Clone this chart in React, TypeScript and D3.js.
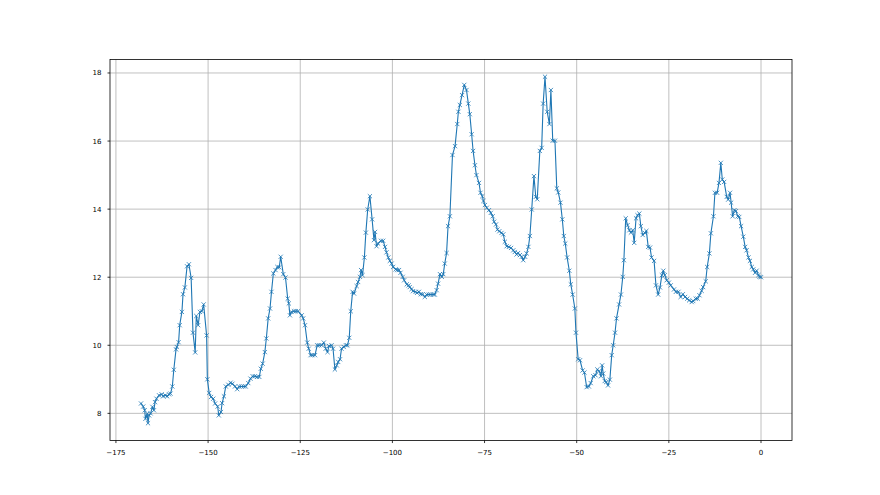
import React, { useEffect, useRef } from "react";
import * as d3 from "d3";

// Data (x, y pairs in parallel arrays)
const xValues: number[] = [
  -168.2, -167.6, -167.2, -167.0, -166.5, -166.3, -166.0, -165.6, -165.1, -164.7,
  -164.4, -164.0, -163.3, -162.6, -162.2, -161.6, -161.1, -160.6, -160.2, -159.7,
  -159.3, -158.7, -158.5, -158.0, -157.7, -157.1, -156.8, -156.3, -155.7, -155.2,
  -154.6, -154.1, -153.5, -153.2, -152.7, -152.2, -151.7, -151.2, -150.4, -150.2,
  -149.7, -149.2, -148.6, -148.1, -147.4, -147.1,
  -146.5, -146.2, -145.7, -145.2, -144.5, -143.9, -143.4, -142.7, -142.1, -141.6,
  -140.9, -140.3, -139.8, -139.1, -138.5, -137.9, -137.3, -136.7, -136.1, -135.7,
  -135.2, -134.6, -134.2, -133.7, -133.2, -132.8, -132.3, -131.7, -131.2, -130.7,
  -130.3, -129.6, -129.0, -128.4, -128.1, -127.8, -127.4, -126.7, -126.2, -125.6,
  -124.6, -124.2, -123.7, -123.1, -122.7, -122.2, -121.7, -121.0, -120.4, -119.9,
  -119.2, -118.6, -118.1, -117.6, -117.2, -116.5, -116.1, -115.6, -115.1, -114.7,
  -114.2, -113.8, -113.2, -112.6, -112.2, -111.7, -111.3, -110.8, -110.4, -109.7,
  -109.3, -108.8, -108.5, -108.1, -107.6, -107.2, -106.7, -106.1, -105.5, -105.0,
  -104.7, -104.3, -103.9, -103.1, -102.5,
  -102.0, -101.6, -101.1, -100.7, -100.2, -99.8, -99.1, -98.7, -98.2, -97.8,
  -97.2, -96.8, -96.1, -95.6, -95.3, -94.8, -94.4, -93.7, -93.3, -92.8,
  -92.3, -91.8, -91.2, -90.7, -90.1, -89.6, -88.9, -88.5, -88.0, -87.6,
  -87.1, -86.6, -86.2, -85.8, -85.3, -84.9, -84.4, -83.7, -83.0, -82.4,
  -82.1, -81.7, -81.1, -80.5, -79.9, -79.4, -79.0,
  -78.5, -78.1, -77.6, -77.2, -76.5, -76.1, -75.6, -75.3, -74.9, -74.4,
  -73.8, -73.3, -72.8, -72.4, -71.9, -71.5, -71.0, -70.4, -69.9, -69.5,
  -69.0, -68.4, -67.8, -67.2, -66.8, -66.3, -65.9, -65.4, -64.9, -64.5,
  -64.0, -63.6, -63.1, -62.7, -62.2, -61.6, -61.1, -60.7, -60.0, -59.5,
  -59.1, -58.6,
  -58.0, -57.4, -57.0, -56.5, -55.9, -55.4, -55.0, -54.4, -53.9, -53.5,
  -53.1, -52.6, -52.0, -51.6, -51.1, -50.5, -50.2, -49.6, -49.1, -48.4,
  -47.9, -47.3, -46.7, -46.2, -45.5, -44.9, -44.4, -43.9, -43.4, -43.1,
  -42.8, -42.4, -42.0, -41.5, -41.0,
  -40.5, -40.1, -39.6, -39.2, -38.5, -38.0, -37.5, -37.2, -36.7, -36.2,
  -35.7, -35.3, -34.8, -34.4, -33.9, -33.5, -33.0, -32.6, -32.1, -31.5,
  -31.1, -30.6, -30.1, -29.7, -29.0, -28.5, -27.9, -27.4, -26.9, -26.5,
  -26.1, -25.6, -25.0, -24.5,
  -23.6, -23.1, -22.4, -21.8, -21.2, -20.6, -20.0, -19.5, -18.8, -18.4,
  -17.7, -17.2, -16.7, -16.1, -15.7, -15.0, -14.6, -14.0, -13.6, -12.9,
  -12.5, -11.9, -11.4, -10.9, -10.5, -10.0, -9.3, -8.9, -8.4, -8.1,
  -7.7, -7.2, -6.8, -6.3, -5.9, -5.4, -4.8, -4.3, -3.9, -3.4,
  -3.0, -2.5, -2.1, -1.6, -1.2, -0.7, -0.4, 0.0,
];

const yValues: number[] = [
  8.29, 8.2, 8.09, 7.84, 7.99, 7.71, 7.94, 8.0, 8.19, 8.09,
  8.33, 8.43, 8.53, 8.56, 8.5, 8.53, 8.5, 8.56, 8.58, 8.79,
  9.28, 9.88, 9.95, 10.09, 10.59, 10.98, 11.5, 11.7, 12.32, 12.38,
  11.98, 10.37, 9.79, 10.86, 10.59, 10.98, 11.0, 11.2, 10.29, 9.0,
  8.6, 8.48, 8.43, 8.29, 8.2, 7.94,
  8.04, 8.3, 8.5, 8.79, 8.84, 8.9, 8.87, 8.79, 8.71, 8.79,
  8.79, 8.79, 8.79, 8.89, 9.02, 9.09, 9.09, 9.07, 9.07, 9.31,
  9.46, 9.8, 10.2, 10.79, 11.08, 11.57, 12.11, 12.21, 12.3, 12.29,
  12.6, 12.09, 11.99, 11.37, 11.23, 10.88, 10.98, 11.0, 11.0, 11.0,
  10.88, 10.79, 10.59, 10.08, 9.9, 9.71, 9.71, 9.71, 10.0, 10.0,
  10.0, 10.08, 9.9, 9.8, 9.98, 10.0, 9.9, 9.29, 9.41, 9.51,
  9.59, 9.9, 9.95, 10.0, 10.0, 10.22, 11.0, 11.57, 11.52, 11.74,
  11.86, 12.01, 12.21, 12.06, 12.58, 13.31, 13.99, 14.38, 13.7, 13.09,
  13.33, 12.91, 12.99, 13.07, 13.07,
  12.89, 12.73, 12.58, 12.48, 12.4, 12.3, 12.23, 12.21, 12.21, 12.13,
  12.01, 11.91, 11.79, 11.76, 11.71, 11.65, 11.59, 11.57, 11.54, 11.57,
  11.5, 11.5, 11.42, 11.49, 11.49, 11.49, 11.49, 11.49, 11.62, 11.81,
  12.09, 12.01, 12.09, 12.4, 12.71, 13.5, 13.79, 15.59, 15.85, 16.5,
  16.86, 17.06, 17.35, 17.65, 17.5, 17.1, 16.79,
  16.2, 15.71, 15.29, 15.0, 14.77, 14.48, 14.38, 14.24, 14.12, 14.04,
  13.97, 13.89, 13.79, 13.63, 13.55, 13.4, 13.35, 13.3, 13.26, 13.04,
  12.91, 12.89, 12.86, 12.79, 12.74, 12.67, 12.71, 12.65, 12.6, 12.5,
  12.6, 12.7, 12.89, 13.21, 13.99, 14.97, 14.36, 14.29, 15.71, 15.8,
  17.1, 17.89,
  16.86, 16.5, 17.5, 16.01, 16.01, 14.61, 14.49, 14.19, 13.7, 13.21,
  12.99, 12.58, 12.19, 11.79, 11.49, 11.08, 10.37, 9.59, 9.56, 9.26,
  9.2, 8.77, 8.79, 8.89, 9.09, 9.12, 9.29, 9.24, 9.09, 9.41,
  9.17, 8.95, 8.92, 8.82, 8.99,
  9.71, 10.0, 10.37, 10.79, 11.2, 11.49, 12.01, 12.5, 13.73, 13.53,
  13.38, 13.31, 13.38, 13.01, 13.73, 13.82, 13.87, 13.5, 13.24, 13.3,
  13.36, 12.89, 12.87, 12.58, 12.48, 11.76, 11.49, 11.7, 12.06, 12.19,
  12.06, 11.91, 11.84, 11.76,
  11.64, 11.57, 11.57, 11.42, 11.5, 11.42, 11.37, 11.32, 11.27, 11.3,
  11.37, 11.37, 11.47, 11.6, 11.71, 11.88, 12.3, 12.7, 13.29, 13.79,
  14.48, 14.48, 14.77, 15.36, 14.87, 14.8, 14.36, 14.28, 14.48, 14.19,
  13.79, 13.97, 13.94, 13.79, 13.77, 13.5, 13.19, 12.89, 12.79, 12.58,
  12.48, 12.3, 12.23, 12.13, 12.19, 12.06, 12.01, 12.0,
];

const xTicks: number[] = [-175, -150, -125, -100, -75, -50, -25, 0];
const yTicks: number[] = [8, 10, 12, 14, 16, 18];

const WIDTH = 880;
const HEIGHT = 495;
const LINE_COLOR = "#1f77b4";

export default function App() {
  const ref = useRef<SVGSVGElement | null>(null);

  useEffect(() => {
    const svg = d3.select(ref.current);
    svg.selectAll("*").remove();

    const left = 110, right = 792, top = 59.4, bottom = 440.55;
    const data = xValues.map((x, i) => ({ x, y: yValues[i] }));

    const [xmin, xmax] = d3.extent(xValues) as [number, number];
    const [ymin, ymax] = d3.extent(yValues) as [number, number];
    const xm = (xmax - xmin) * 0.05;
    const ym = (ymax - ymin) * 0.05;

    const x = d3.scaleLinear().domain([xmin - xm, xmax + xm]).range([left, right]);
    const y = d3.scaleLinear().domain([ymin - ym, ymax + ym]).range([bottom, top]);

    svg.append("rect").attr("width", WIDTH).attr("height", HEIGHT).attr("fill", "#fff");

    const g = svg.append("g");

    // grid
    g.selectAll(".vgrid").data(xTicks).enter().append("line")
      .attr("x1", (d) => x(d)).attr("x2", (d) => x(d))
      .attr("y1", top).attr("y2", bottom)
      .attr("stroke", "#b0b0b0").attr("stroke-width", 0.8);
    g.selectAll(".hgrid").data(yTicks).enter().append("line")
      .attr("x1", left).attr("x2", right)
      .attr("y1", (d) => y(d)).attr("y2", (d) => y(d))
      .attr("stroke", "#b0b0b0").attr("stroke-width", 0.8);

    // line
    const line = d3.line<{ x: number; y: number }>().x((d) => x(d.x)).y((d) => y(d.y));
    g.append("path").datum(data).attr("d", line)
      .attr("fill", "none").attr("stroke", LINE_COLOR).attr("stroke-width", 1.1)
      .attr("stroke-linejoin", "round").attr("stroke-linecap", "square");

    // markers
    const s = 2.1;
    g.selectAll(".mk").data(data).enter().append("path")
      .attr("transform", (d) => `translate(${x(d.x)},${y(d.y)})`)
      .attr("d", `M${-s},${-s}L${s},${s}M${-s},${s}L${s},${-s}`)
      .attr("stroke", LINE_COLOR).attr("stroke-width", 0.8).attr("fill", "none");

    // spines
    g.append("rect").attr("x", left).attr("y", top)
      .attr("width", right - left).attr("height", bottom - top)
      .attr("fill", "none").attr("stroke", "#000").attr("stroke-width", 0.8);

    const fmt = (v: number) => (v < 0 ? "\u2212" + Math.abs(v) : String(v));

    // x ticks
    const xt = g.selectAll(".xt").data(xTicks).enter().append("g")
      .attr("transform", (d) => `translate(${x(d)},${bottom})`);
    xt.append("line").attr("y1", 0).attr("y2", 2.5).attr("stroke", "#000").attr("stroke-width", 0.8);
    xt.append("text").attr("y", 14.5).attr("text-anchor", "middle")
      .attr("font-family", "DejaVu Sans").attr("font-size", 7).attr("fill", "#000")
      .text((d) => fmt(d));

    // y ticks
    const yt = g.selectAll(".yt").data(yTicks).enter().append("g")
      .attr("transform", (d) => `translate(${left},${y(d)})`);
    yt.append("line").attr("x1", 0).attr("x2", -2.5).attr("stroke", "#000").attr("stroke-width", 0.8);
    yt.append("text").attr("x", -8.5).attr("dy", "0.35em").attr("text-anchor", "end")
      .attr("font-family", "DejaVu Sans").attr("font-size", 7).attr("fill", "#000")
      .text((d) => fmt(d));
  }, []);

  return (
    <div style={{ position: "fixed", left: 0, top: 0 }}>
      <svg ref={ref} width={WIDTH} height={HEIGHT} style={{ display: "block" }} />
    </div>
  );
}
